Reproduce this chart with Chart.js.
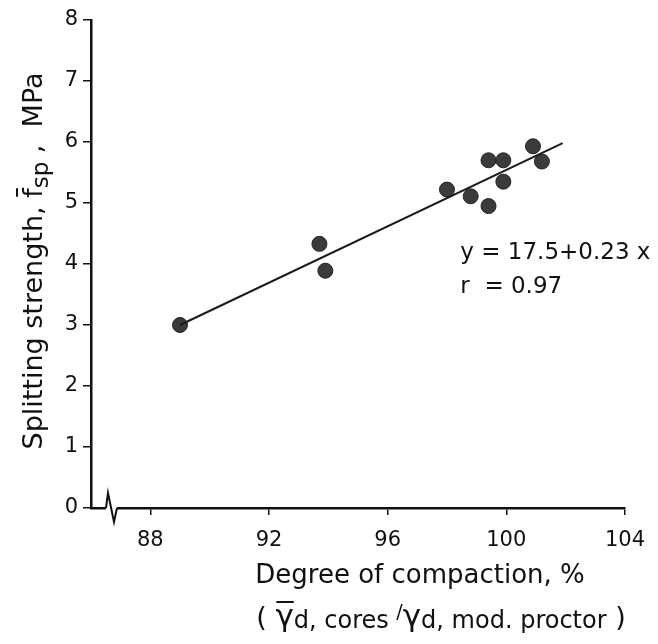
<!DOCTYPE html>
<html>
<head>
<meta charset="utf-8">
<script src="https://cdn.jsdelivr.net/npm/chart.js@4/dist/chart.umd.min.js"></script>
<style>
    html, body { margin: 0; padding: 0; background: #fff; }
    #wrap { width: 658px; height: 644px; }
</style>
</head>
<body>
<div id="wrap"><canvas id="chart" width="658" height="644"></canvas></div>
<script>
// Ölçüm verileri
const compaction = [89.0, 93.7, 93.9, 98.0, 98.8, 99.4, 99.4, 99.9, 99.9, 100.9, 101.2];
const strength = [3.0, 4.33, 3.89, 5.22, 5.11, 5.70, 4.95, 5.70, 5.35, 5.93, 5.68];

// Regresyon doğrusu uç noktaları
const fitX = [89.0, 101.9];
const fitY = [3.0, 5.98];

// Eksen etiketleri
const xTicks = [88, 92, 96, 100, 104];
const yTicks = [0, 1, 2, 3, 4, 5, 6, 7, 8];

const FONT = "'DejaVu Sans', sans-serif";
const INK = '#111';

// Parça parça metin yazma (alt indisler için)
function drawParts(ctx, parts, startX, baseY) {
    let px = startX;
    parts.forEach(p => {
        ctx.font = p.f + FONT;
        const w = ctx.measureText(p.t).width;
        ctx.fillText(p.t, px, baseY + p.dy);
        if (p.bar) {
            ctx.lineWidth = 2;
            ctx.beginPath();
            ctx.moveTo(px + 1, baseY + p.bar);
            ctx.lineTo(px + w, baseY + p.bar);
            ctx.stroke();
        }
        px += w;
    });
    return px - startX;
}

function partsWidth(ctx, parts) {
    let total = 0;
    parts.forEach(p => {
        ctx.font = p.f + FONT;
        total += ctx.measureText(p.t).width;
    });
    return total;
}

// Eksen başlıkları, denklem ve eksen kırığı
const extrasPlugin = {
    id: 'extras',
    afterDraw(chart) {
        const ctx = chart.ctx;
        const xs = chart.scales.x;
        const ys = chart.scales.y;
        const area = chart.chartArea;
        ctx.save();
        ctx.fillStyle = INK;
        ctx.strokeStyle = INK;

        // Eksen kırığı
        const y0 = area.bottom;
        const bx = area.left + 15;
        ctx.fillStyle = '#fff';
        ctx.fillRect(bx, y0 - 2, 11, 4);
        ctx.fillStyle = INK;
        ctx.lineWidth = 2;
        ctx.beginPath();
        ctx.moveTo(bx, y0);
        ctx.lineTo(bx + 2, y0 - 15);
        ctx.lineTo(bx + 8, y0 + 14);
        ctx.lineTo(bx + 11, y0);
        ctx.stroke();

        // Denklem
        ctx.font = '23px ' + FONT;
        ctx.textBaseline = 'middle';
        ctx.textAlign = 'left';
        const ex = xs.getPixelForValue(98.45);
        ctx.fillText('y = 17.5+0.23 x', ex, ys.getPixelForValue(4.18));
        ctx.fillText('r  = 0.97', ex, ys.getPixelForValue(3.62));

        // X ekseni başlığı
        ctx.font = '26px ' + FONT;
        ctx.textAlign = 'center';
        ctx.textBaseline = 'alphabetic';
        ctx.fillText('Degree of compaction, %', 420, 583);

        // İkinci satır: (γ̄d, cores / γd, mod. proctor)
        const parts = [
            { t: '( ', f: '27px ', dy: 0 },
            { t: 'γ', f: '31px ', dy: 0, bar: -24 },
            { t: 'd, cores ', f: '24px ', dy: 2 },
            { t: '/', f: '19px ', dy: -8 },
            { t: 'γ', f: '31px ', dy: 0 },
            { t: 'd, mod. proctor', f: '24px ', dy: 2 },
            { t: ' )', f: '27px ', dy: 0 }
        ];
        ctx.textAlign = 'left';
        const w2 = partsWidth(ctx, parts);
        drawParts(ctx, parts, 441 - w2 / 2, 626);

        // Y ekseni başlığı (döndürülmüş)
        ctx.translate(42, 261);
        ctx.rotate(-Math.PI / 2);
        const yParts = [
            { t: 'Splitting strength, ', f: '27px ', dy: 0 },
            { t: 'f', f: '27px ', dy: 0, bar: -25 },
            { t: 'sp', f: '23px ', dy: 6 },
            { t: ' ,  MPa', f: '27px ', dy: 0 }
        ];
        const total = partsWidth(ctx, yParts);
        drawParts(ctx, yParts, -total / 2, 0);
        ctx.restore();
    }
};

const points = compaction.map((x, i) => ({ x: x, y: strength[i] }));
const fitLine = fitX.map((x, i) => ({ x: x, y: fitY[i] }));

new Chart(document.getElementById('chart'), {
    type: 'scatter',
    data: {
        datasets: [
            {
                type: 'line',
                data: fitLine,
                borderColor: '#1a1a1a',
                borderWidth: 2,
                pointRadius: 0,
                fill: false
            },
            {
                data: points,
                backgroundColor: '#3b3b3b',
                borderColor: '#222',
                borderWidth: 1,
                pointRadius: 7.5
            }
        ]
    },
    options: {
        responsive: false,
        devicePixelRatio: 1,
        animation: false,
        layout: { padding: { top: 20, right: 27, left: 0, bottom: 0 } },
        plugins: {
            legend: { display: false },
            tooltip: { enabled: false }
        },
        scales: {
            x: {
                type: 'linear',
                min: 86,
                max: 104,
                afterBuildTicks: scale => {
                    scale.ticks = xTicks.map(v => ({ value: v }));
                },
                afterFit: scale => { scale.height = 136; },
                border: { display: true, color: INK, width: 2.5 },
                grid: { drawOnChartArea: false, tickLength: 7, color: INK, lineWidth: 1.5 },
                ticks: {
                    color: INK,
                    padding: 13,
                    font: { family: FONT, size: 21 },
                    maxRotation: 0
                }
            },
            y: {
                min: 0,
                max: 8,
                afterBuildTicks: scale => {
                    scale.ticks = yTicks.map(v => ({ value: v }));
                },
                afterFit: scale => { scale.width = 91; },
                border: { display: true, color: INK, width: 2.5 },
                grid: { drawOnChartArea: false, tickLength: 8, color: INK, lineWidth: 1.5 },
                ticks: {
                    color: INK,
                    padding: 5,
                    font: { family: FONT, size: 21 }
                }
            }
        }
    },
    plugins: [extrasPlugin]
});
</script>
</body>
</html>
